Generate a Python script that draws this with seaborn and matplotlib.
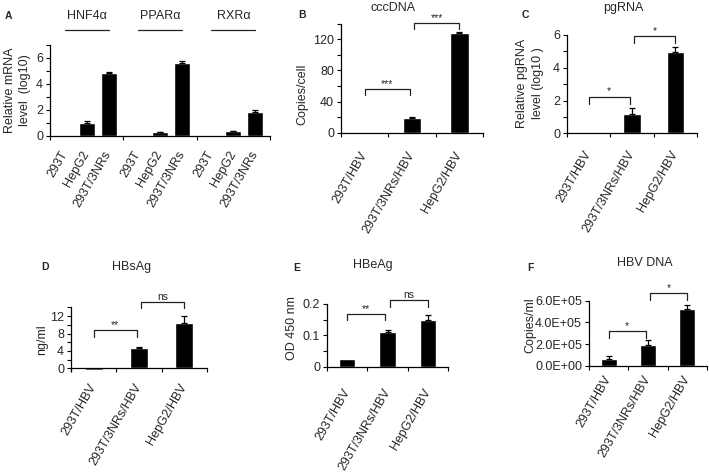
import matplotlib
matplotlib.use("Agg")
import matplotlib.pyplot as plt
import matplotlib.transforms as mtransforms
from matplotlib.ticker import MultipleLocator, FuncFormatter, FixedLocator, NullFormatter
import seaborn as sns
import pandas as pd
import numpy as np

# ---------------- data ----------------
genes = ["HNF4α", "PPARα", "RXRα"]
cells_a = ["293T", "HepG2", "293T/3NRs"]
mrna_hnf4a = [0.0, 1.0, 4.8]
mrna_ppara = [0.0, 0.25, 5.6]
mrna_rxra = [0.0, 0.35, 1.82]
mrna_hnf4a_err = [0.0, 0.15, 0.07]
mrna_ppara_err = [0.0, 0.03, 0.17]
mrna_rxra_err = [0.0, 0.04, 0.13]

groups = ["293T/HBV", "293T/3NRs/HBV", "HepG2/HBV"]
cccdna = [0.0, 18.5, 128.0]
cccdna_err = [0.0, 1.8, 1.8]
pgrna = [0.0, 1.2, 4.95]
pgrna_err = [0.0, 0.33, 0.33]
hbsag = [-0.45, 4.7, 10.3]
hbsag_err = [0.0, 0.3, 1.8]
hbeag = [0.025, 0.11, 0.15]
hbeag_err = [0.0, 0.006, 0.015]
hbvdna = [0.68e5, 1.95e5, 5.24e5]
hbvdna_err = [0.23e5, 0.40e5, 0.39e5]

# significance annotations: (left, right, label, bracket height, leg end)
sig_b = [(0, 1, "***", 56, 48), (1, 2, "***", 141, 133)]
sig_c = [(0, 1, "*", 2.24, 1.79), (1, 2, "*", 5.95, 5.52)]
sig_d = [(0, 1, "**", 8.8, 7.3), (1, 2, "ns", 15.3, 13.8)]
sig_e = [(0, 1, "**", 0.168, 0.149), (1, 2, "ns", 0.213, 0.192)]
sig_f = [(0, 1, "*", 3.17e5, 2.6e5), (1, 2, "*", 6.7e5, 6.09e5)]

# ---------------- style ----------------
sns.set_theme(style="white")
plt.rcParams['font.family'] = ['Liberation Sans', 'DejaVu Sans']
plt.rcParams['axes.linewidth'] = 0.9

W, H = 709, 472
fig = plt.figure(figsize=(W / 100, H / 100), dpi=100)
FS = 9


def px_rect(x0, x1, ytop, ybot):
    return [x0 / W, 1 - ybot / H, (x1 - x0) / W, (ybot - ytop) / H]


def ftext(xpx, ypx, s, **kw):
    fig.text(xpx / W, 1 - ypx / H, s, **kw)


def style_axes(ax, ncat, xs, labels, major, minor, pad, fmt=None):
    for side in ("top", "right"):
        ax.spines[side].set_visible(False)
    for side in ("left", "bottom"):
        ax.spines[side].set_color("black")
    ax.set_xlabel("")
    ax.set_ylabel("")
    ax.set_xlim(-0.5, ncat - 0.5)
    ax.set_xticks(xs)
    ax.set_xticklabels(labels, rotation=60, ha="right", va="center",
                       rotation_mode="anchor", fontsize=FS)
    shift = mtransforms.ScaledTranslation(3 / 100, 0, fig.dpi_scale_trans)
    for lab in ax.get_xticklabels():
        lab.set_transform(lab.get_transform() + shift)
    ax.xaxis.set_minor_locator(FixedLocator(np.arange(-0.5, ncat, 1.0)))
    ax.tick_params(axis="x", which="major", length=0, pad=pad, bottom=True)
    ax.tick_params(axis="x", which="minor", length=3, width=0.8,
                   direction="out", bottom=True, color="black")
    ax.yaxis.set_major_locator(MultipleLocator(major))
    if minor:
        ax.yaxis.set_minor_locator(MultipleLocator(minor))
    ax.yaxis.set_minor_formatter(NullFormatter())
    if fmt is not None:
        ax.yaxis.set_major_formatter(FuncFormatter(fmt))
    ax.tick_params(axis="y", which="both", length=3, width=0.8,
                   direction="out", left=True, labelsize=FS, pad=2,
                   color="black")
    ax.grid(False)


def add_errors(ax, means, errs):
    patches = sorted(ax.patches, key=lambda p: p.get_x())
    xs = np.array([p.get_x() + p.get_width() / 2 for p in patches])
    means = np.asarray(means, float)
    errs = np.asarray(errs, float)
    m = errs > 0
    ax.errorbar(xs[m], means[m], yerr=[np.zeros(m.sum()), errs[m]],
                fmt="none", ecolor="black", elinewidth=0.9, capsize=2,
                capthick=0.9)
    return xs


def add_sig(ax, sigs):
    for i, j, lab, y, yl in sigs:
        x1 = i + (0.05 if i > 0 else 0.0)
        x2 = j - (0.05 if i == 0 else 0.0)
        ax.plot([x1, x1, x2, x2], [yl, y, y, yl], color="#222222",
                lw=0.9, clip_on=False)
        ax.text((x1 + x2) / 2, y, lab, ha="center", va="bottom",
                fontsize=7.5, clip_on=False)


def simple_panel(rect, means, errs, ylim, major, minor, pad, sigs,
                 fmt=None, zero_spine=False):
    ax = fig.add_axes(rect)
    df = pd.DataFrame({"group": groups, "value": means})
    sns.barplot(data=df, x="group", y="value", order=groups, color="black",
                saturation=1, width=0.4, errorbar=None, ax=ax)
    xs = add_errors(ax, means, errs)
    ax.set_ylim(*ylim)
    if zero_spine:
        ax.spines["bottom"].set_position(("data", 0))
    style_axes(ax, len(groups), xs, groups, major, minor, pad, fmt)
    add_sig(ax, sigs)
    return ax


# ---------------- panel A ----------------
axA = fig.add_axes(px_rect(50, 270, 44.5, 135.7))
mrna_all = [mrna_hnf4a, mrna_ppara, mrna_rxra]
err_all = [mrna_hnf4a_err, mrna_ppara_err, mrna_rxra_err]
dfA = pd.DataFrame({
    "gene": np.repeat(genes, len(cells_a)),
    "cell": cells_a * len(genes),
    "value": np.ravel(mrna_all),
})
sns.barplot(data=dfA, x="gene", y="value", hue="cell", order=genes,
            hue_order=cells_a, palette=["black"] * 3, saturation=1,
            width=0.9, gap=0.27, errorbar=None, legend=False, ax=axA)
xsA = add_errors(axA, np.ravel(mrna_all), np.ravel(err_all))
axA.set_ylim(0, 7)
style_axes(axA, len(genes), xsA, cells_a * len(genes), 2, 1, 11.5)
blend = mtransforms.blended_transform_factory(axA.transData, axA.transAxes)
for gi, g in enumerate(genes):
    axA.plot([gi - 0.3, gi + 0.3], [1.159, 1.159], color="#222222", lw=0.9,
             transform=blend, clip_on=False)
    axA.text(gi, 1.3125, g, ha="center", va="center", fontsize=FS,
             transform=blend)

# ---------------- panels B-F ----------------
axB = simple_panel(px_rect(341, 483, 23.8, 132.7), cccdna, cccdna_err,
                   (0, 140), 40, 20, 14.5, sig_b)
axC = simple_panel(px_rect(567, 697, 34.9, 133.3), pgrna, pgrna_err,
                   (0, 6), 2, 1, 13, sig_c)
axD = simple_panel(px_rect(71, 207, 307.3, 371.1), hbsag, hbsag_err,
                   (-0.6, 14), 4, 2, 11.7, sig_d, zero_spine=True)
axE = simple_panel(px_rect(327, 448, 304, 366.7), hbeag, hbeag_err,
                   (0, 0.2), 0.1, 0.05, 16.5, sig_e,
                   fmt=lambda v, p: "0" if abs(v) < 1e-9 else f"{v:.1f}")
axF = simple_panel(px_rect(589, 707, 300.5, 366), hbvdna, hbvdna_err,
                   (0, 6e5), 2e5, None, 7.4, sig_f,
                   fmt=lambda v, p: f"{v:.1E}")

# ---------------- titles, labels, panel letters ----------------
ftext(393, 8, "cccDNA", ha="center", va="center", fontsize=FS)
ftext(623, 8, "pgRNA", ha="center", va="center", fontsize=FS)
ftext(132, 267, "HBsAg", ha="center", va="center", fontsize=FS)
ftext(373, 265, "HBeAg", ha="center", va="center", fontsize=FS)
ftext(645, 263, "HBV DNA", ha="center", va="center", fontsize=FS)

ftext(17.5, 90, "Relative mRNA\nlevel  (log10)", ha="center", va="center",
      rotation=90, fontsize=FS, linespacing=1.35)
ftext(302.5, 94.5, "Copies/cell", ha="center", va="center", rotation=90,
      fontsize=FS)
ftext(530, 83.5, "Relative pgRNA\nlevel (log10 )", ha="center", va="center",
      rotation=90, fontsize=FS, linespacing=1.35)
ftext(42.5, 340, "ng/ml", ha="center", va="center", rotation=90, fontsize=FS)
ftext(291.7, 328, "OD 450 nm", ha="center", va="center", rotation=90,
      fontsize=FS)
ftext(530, 325.5, "Copies/ml", ha="center", va="center", rotation=90,
      fontsize=FS)

for lab, x, y in [("A", 8, 16), ("B", 302, 15), ("C", 525, 15),
                  ("D", 45, 267), ("E", 297, 268), ("F", 530, 268)]:
    ftext(x, y, lab, ha="center", va="center", fontsize=7.5,
          fontweight="bold")

fig.savefig("out.png", dpi=100)
